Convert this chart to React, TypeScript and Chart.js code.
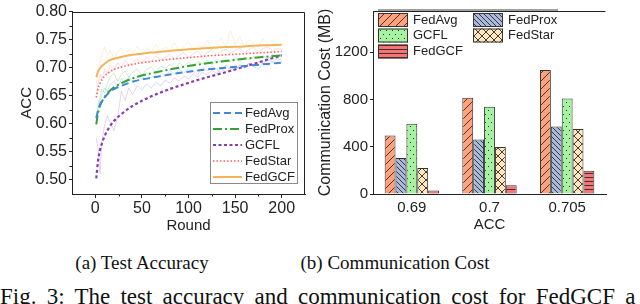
import React, { useEffect, useRef } from 'react';
import { Chart, registerables } from 'chart.js';
Chart.register(...registerables);

// ---------- Data: (a) Test Accuracy ----------
const fitRounds = [1, 3, 5, 10, 15, 20, 30, 40, 50, 60, 80, 100, 120, 140, 160, 180, 200];
const fitFedAvg = [0.610, 0.624, 0.634, 0.647, 0.656, 0.662, 0.669, 0.675, 0.679, 0.682, 0.688, 0.693, 0.697, 0.700, 0.703, 0.706, 0.709];
const fitFedProx = [0.599, 0.620, 0.632, 0.648, 0.658, 0.665, 0.674, 0.681, 0.686, 0.690, 0.697, 0.703, 0.708, 0.712, 0.716, 0.719, 0.722];
const fitGCFL = [0.503, 0.535, 0.553, 0.578, 0.594, 0.605, 0.620, 0.632, 0.641, 0.649, 0.662, 0.673, 0.683, 0.692, 0.702, 0.712, 0.722];
const fitFedStar = [0.647, 0.663, 0.672, 0.685, 0.692, 0.697, 0.702, 0.706, 0.709, 0.711, 0.715, 0.718, 0.721, 0.723, 0.725, 0.727, 0.729];
const fitFedGCF = [0.683, 0.693, 0.699, 0.707, 0.713, 0.716, 0.720, 0.723, 0.725, 0.727, 0.730, 0.733, 0.735, 0.737, 0.738, 0.740, 0.741];

const rawRounds = [1, 3, 5, 7, 10, 13, 16, 20, 24, 28, 32, 36, 40, 45, 50, 55, 60, 65, 70, 75, 80, 85, 90, 95, 100, 105, 110, 115, 120, 125, 130, 135, 140, 145, 150, 155, 160, 165, 170, 175, 180, 185, 190, 195, 200];
const rawFedAvg = [0.606, 0.628, 0.641, 0.652, 0.664, 0.658, 0.670, 0.676, 0.664, 0.681, 0.672, 0.684, 0.676, 0.686, 0.679, 0.690, 0.682, 0.688, 0.693, 0.684, 0.695, 0.688, 0.697, 0.690, 0.699, 0.693, 0.688, 0.701, 0.695, 0.703, 0.697, 0.692, 0.705, 0.698, 0.694, 0.706, 0.700, 0.708, 0.702, 0.697, 0.709, 0.703, 0.711, 0.706, 0.712];
const rawFedProx = [0.598, 0.635, 0.648, 0.662, 0.655, 0.672, 0.684, 0.690, 0.676, 0.688, 0.694, 0.683, 0.692, 0.698, 0.686, 0.697, 0.701, 0.692, 0.703, 0.699, 0.706, 0.697, 0.708, 0.703, 0.710, 0.701, 0.711, 0.707, 0.713, 0.705, 0.715, 0.709, 0.716, 0.711, 0.718, 0.710, 0.719, 0.714, 0.720, 0.716, 0.722, 0.715, 0.723, 0.719, 0.724];
const rawGCFL = [0.575, 0.556, 0.512, 0.568, 0.598, 0.614, 0.602, 0.588, 0.612, 0.658, 0.642, 0.664, 0.652, 0.668, 0.660, 0.671, 0.664, 0.674, 0.668, 0.678, 0.672, 0.682, 0.676, 0.685, 0.680, 0.689, 0.683, 0.692, 0.687, 0.695, 0.690, 0.698, 0.693, 0.701, 0.697, 0.704, 0.700, 0.708, 0.703, 0.711, 0.707, 0.714, 0.710, 0.717, 0.713];
const rawFedStar = [0.652, 0.672, 0.688, 0.680, 0.697, 0.690, 0.704, 0.696, 0.709, 0.701, 0.713, 0.704, 0.711, 0.716, 0.707, 0.719, 0.711, 0.721, 0.714, 0.718, 0.724, 0.715, 0.722, 0.727, 0.718, 0.725, 0.729, 0.720, 0.727, 0.731, 0.723, 0.729, 0.733, 0.725, 0.731, 0.735, 0.727, 0.733, 0.736, 0.728, 0.734, 0.737, 0.730, 0.735, 0.732];
const rawFedGCF = [0.668, 0.700, 0.712, 0.725, 0.737, 0.722, 0.731, 0.716, 0.728, 0.735, 0.721, 0.733, 0.726, 0.738, 0.724, 0.735, 0.729, 0.741, 0.727, 0.737, 0.732, 0.744, 0.730, 0.739, 0.746, 0.733, 0.741, 0.736, 0.749, 0.734, 0.744, 0.752, 0.737, 0.766, 0.742, 0.755, 0.738, 0.750, 0.743, 0.736, 0.752, 0.741, 0.748, 0.739, 0.744];

const accTicks = [0.5, 0.55, 0.6, 0.65, 0.7, 0.75, 0.8];
const accMinor = [0.525, 0.575, 0.625, 0.675, 0.725, 0.775];
const roundTicks = [0, 50, 100, 150, 200];
const roundMinor = [25, 75, 125, 175];

// ---------- Data: (b) Communication Cost ----------
const accCategories = ['0.69', '0.7', '0.705'];
const costFedAvg = [495, 815, 1050];
const costFedProx = [305, 462, 572];
const costGCFL = [595, 738, 808];
const costFedStar = [220, 398, 550];
const costFedGCF = [30, 74, 197];
const costTicks = [0, 400, 800, 1200];

const FONT = "'Liberation Sans', Arial, Helvetica, sans-serif";
const INK = '#222';

const lineSeries = [
  { name: 'FedAvg', fit: fitFedAvg, raw: rawFedAvg, color: '#3F88D6', rgb: '63,136,214', dash: [7, 4], width: 2 },
  { name: 'FedProx', fit: fitFedProx, raw: rawFedProx, color: '#33A433', rgb: '51,164,51', dash: [9, 3, 2, 3], width: 2 },
  { name: 'GCFL', fit: fitGCFL, raw: rawGCFL, color: '#8A3DB0', rgb: '138,61,176', dash: [3, 2.5], width: 2.2 },
  { name: 'FedStar', fit: fitFedStar, raw: rawFedStar, color: '#FF5E5E', rgb: '255,94,94', dash: [1.5, 2], width: 1.6 },
  { name: 'FedGCF', fit: fitFedGCF, raw: rawFedGCF, color: '#F3B458', rgb: '243,180,88', dash: [], width: 2 },
];

const frameBoxPlugin = {
  id: 'frameBox',
  afterDraw(chart: any, _a: any, opts: any) {
    const { ctx, chartArea: a } = chart;
    ctx.save();
    ctx.strokeStyle = INK;
    ctx.lineWidth = 1;
    ctx.beginPath();
    const t = Math.round(a.top) + 0.5;
    const r = Math.round(a.right) - 0.5;
    ctx.moveTo(a.left, t);
    ctx.lineTo(r, t);
    if (opts.right) ctx.lineTo(r, a.bottom);
    ctx.stroke();
    ctx.restore();
  },
};

const minorTicksPlugin = {
  id: 'minorTicks',
  afterDraw(chart: any, _a: any, opts: any) {
    const { ctx, chartArea: a, scales } = chart;
    ctx.save();
    ctx.strokeStyle = INK;
    ctx.lineWidth = 1;
    ctx.beginPath();
    (opts.x || []).forEach((v: number) => {
      const px = Math.round(scales.x.getPixelForValue(v)) + 0.5;
      ctx.moveTo(px, a.bottom);
      ctx.lineTo(px, a.bottom + 2.5);
    });
    (opts.y || []).forEach((v: number) => {
      const py = Math.round(scales.y.getPixelForValue(v)) + 0.5;
      ctx.moveTo(a.left, py);
      ctx.lineTo(a.left - 2.5, py);
    });
    ctx.stroke();
    ctx.restore();
  },
};

const lineLegendPlugin = {
  id: 'lineLegend',
  afterDraw(chart: any) {
    const { ctx } = chart;
    const x0 = 210, y0 = 102, w = 87, h = 81;
    ctx.save();
    ctx.fillStyle = '#fff';
    ctx.fillRect(x0, y0, w, h);
    ctx.strokeStyle = '#8a8a8a';
    ctx.lineWidth = 1;
    ctx.strokeRect(x0 + 0.5, y0 + 0.5, w, h);
    ctx.font = `13px ${FONT}`;
    ctx.textBaseline = 'middle';
    lineSeries.forEach((s, i) => {
      const y = y0 + 11 + i * 16;
      ctx.strokeStyle = s.color;
      ctx.lineWidth = s.width;
      ctx.setLineDash(s.dash);
      ctx.beginPath();
      ctx.moveTo(x0 + 3, y);
      ctx.lineTo(x0 + 32, y);
      ctx.stroke();
      ctx.setLineDash([]);
      ctx.fillStyle = INK;
      ctx.fillText(s.name, x0 + 35, y);
    });
    ctx.restore();
  },
};

function makePattern(ctx: CanvasRenderingContext2D, bg: string, w: number, h: number, draw: (g: CanvasRenderingContext2D) => void) {
  const c = document.createElement('canvas');
  c.width = w;
  c.height = h;
  const g = c.getContext('2d')!;
  g.fillStyle = bg;
  g.fillRect(0, 0, w, h);
  g.strokeStyle = '#2a2a2a';
  g.fillStyle = '#2a2a2a';
  g.lineWidth = 0.9;
  draw(g);
  return ctx.createPattern(c, 'repeat')!;
}

function buildPatterns(ctx: CanvasRenderingContext2D) {
  const fwd = (g: CanvasRenderingContext2D, s: number) => {
    g.beginPath();
    g.moveTo(0, s); g.lineTo(s, 0);
    g.moveTo(-1, 1); g.lineTo(1, -1);
    g.moveTo(s - 1, s + 1); g.lineTo(s + 1, s - 1);
    g.stroke();
  };
  const back = (g: CanvasRenderingContext2D, s: number) => {
    g.beginPath();
    g.moveTo(0, 0); g.lineTo(s, s);
    g.moveTo(s - 1, -1); g.lineTo(s + 1, 1);
    g.moveTo(-1, s - 1); g.lineTo(1, s + 1);
    g.stroke();
  };
  return {
    FedAvg: makePattern(ctx, '#FFA27C', 8, 8, (g) => fwd(g, 8)),
    FedProx: makePattern(ctx, '#A9B9DA', 5, 5, (g) => back(g, 5)),
    GCFL: makePattern(ctx, '#A5F2A0', 6, 8, (g) => { g.fillRect(1, 2, 1, 1); g.fillRect(4, 6, 1, 1); }),
    FedStar: makePattern(ctx, '#FFE6BC', 8, 8, (g) => { fwd(g, 8); back(g, 8); }),
    FedGCF: makePattern(ctx, '#F87474', 4, 4, (g) => { g.beginPath(); g.moveTo(0, 1.5); g.lineTo(4, 1.5); g.stroke(); }),
  } as Record<string, CanvasPattern>;
}

const barNames = ['FedAvg', 'FedProx', 'GCFL', 'FedStar', 'FedGCF'];
const barValues = [costFedAvg, costFedProx, costGCFL, costFedStar, costFedGCF];

function makeBarLegendPlugin(patterns: Record<string, CanvasPattern>) {
  return {
    id: 'barLegend',
    afterDraw(chart: any) {
      const { ctx } = chart;
      ctx.save();
      ctx.strokeStyle = '#a0a0a0';
      ctx.lineWidth = 2;
      ctx.beginPath();
      ctx.moveTo(68, 10);
      ctx.lineTo(248, 10);
      ctx.stroke();
      const slots = [
        { x: 68, y: 20 }, { x: 163, y: 20 },
        { x: 68, y: 35.5 }, { x: 163, y: 35.5 },
        { x: 68, y: 51.5 },
      ];
      const order = ['FedAvg', 'FedProx', 'GCFL', 'FedStar', 'FedGCF'];
      ctx.font = `13px ${FONT}`;
      ctx.textBaseline = 'middle';
      order.forEach((n, i) => {
        const s = slots[i];
        ctx.fillStyle = patterns[n];
        ctx.fillRect(s.x, s.y - 7, 30, 14);
        ctx.strokeStyle = '#333';
        ctx.lineWidth = 1;
        ctx.strokeRect(s.x + 0.5, s.y - 7 + 0.5, 29, 13);
        ctx.fillStyle = INK;
        ctx.fillText(n, s.x + 35, s.y);
      });
      ctx.restore();
    },
  };
}

function LineChart() {
  const ref = useRef<HTMLCanvasElement>(null);
  useEffect(() => {
    const datasets: any[] = [];
    lineSeries.forEach((s) => {
      datasets.push({
        label: s.name,
        data: fitRounds.map((r, i) => ({ x: r, y: s.fit[i] })),
        borderColor: s.color,
        borderDash: s.dash,
        borderWidth: s.width,
        pointRadius: 0,
        cubicInterpolationMode: 'monotone',
        fill: false,
        order: 1,
      });
    });
    lineSeries.forEach((s) => {
      datasets.push({
        label: s.name + ' raw',
        data: rawRounds.map((r, i) => ({ x: r, y: s.raw[i] })),
        borderColor: `rgba(${s.rgb},0.22)`,
        borderWidth: 1,
        pointRadius: 0,
        tension: 0,
        fill: false,
        order: 2,
      });
    });
    const chart = new Chart(ref.current!, {
      type: 'line',
      data: { datasets },
      options: {
        animation: false,
        responsive: false,
        layout: { padding: { top: 6, right: 5, left: 0, bottom: 0 } },
        plugins: {
          legend: { display: false },
          tooltip: { enabled: false },
          frameBox: { right: true },
          minorTicks: { x: roundMinor, y: accMinor },
        } as any,
        scales: {
          x: {
            type: 'linear',
            min: -25,
            max: 225,
            afterBuildTicks: (s: any) => { s.ticks = roundTicks.map((v) => ({ value: v })); },
            afterFit: (s: any) => { s.height = 46; },
            grid: { drawOnChartArea: false, tickLength: 4, tickColor: INK },
            border: { color: INK, width: 1 },
            ticks: { font: { size: 16, family: FONT }, color: INK, padding: 1, maxRotation: 0, autoSkip: false },
            title: { display: true, text: 'Round', font: { size: 15, family: FONT }, color: INK, padding: { top: 0, bottom: 5 } },
          },
          y: {
            min: 0.475,
            max: 0.8,
            afterBuildTicks: (s: any) => { s.ticks = accTicks.map((v) => ({ value: v })); },
            afterFit: (s: any) => { s.width = 72; },
            grid: { drawOnChartArea: false, tickLength: 3, tickColor: INK },
            border: { color: INK, width: 1 },
            ticks: { font: { size: 16, family: FONT }, color: INK, padding: 2, callback: (v: any) => Number(v).toFixed(2) },
            title: { display: true, text: 'ACC', font: { size: 15, family: FONT }, color: INK, padding: { top: 18, bottom: 0 } },
          },
        },
      },
      plugins: [frameBoxPlugin, minorTicksPlugin, lineLegendPlugin],
    });
    return () => chart.destroy();
  }, []);
  return <canvas ref={ref} width={310} height={240} style={{ position: 'absolute', left: 0, top: 0, width: 310, height: 240 }} />;
}

function BarChart() {
  const ref = useRef<HTMLCanvasElement>(null);
  useEffect(() => {
    const ctx = ref.current!.getContext('2d')!;
    const patterns = buildPatterns(ctx);
    const chart = new Chart(ref.current!, {
      type: 'bar',
      data: {
        labels: accCategories,
        datasets: barNames.map((n, i) => ({
          label: n,
          data: barValues[i],
          backgroundColor: patterns[n],
          borderColor: '#333',
          borderWidth: { top: 1, left: 1, right: 1, bottom: 0 },
          borderSkipped: 'bottom',
          categoryPercentage: 0.7,
          barPercentage: 1,
        })),
      },
      options: {
        animation: false,
        responsive: false,
        layout: { padding: { top: 6, right: 34, left: 0, bottom: 0 } },
        plugins: {
          legend: { display: false },
          tooltip: { enabled: false },
          frameBox: { right: false },
        } as any,
        scales: {
          x: {
            afterFit: (s: any) => { s.height = 46; },
            grid: { display: false, drawTicks: false },
            border: { color: INK, width: 1 },
            ticks: { font: { size: 15, family: FONT }, color: INK, padding: 5 },
            title: { display: true, text: 'ACC', font: { size: 15, family: FONT }, color: INK, padding: { top: 0, bottom: 6 } },
          },
          y: {
            min: 0,
            max: 1550,
            afterBuildTicks: (s: any) => { s.ticks = costTicks.map((v) => ({ value: v })); },
            afterFit: (s: any) => { s.width = 63; },
            grid: { drawOnChartArea: false, tickLength: 3, tickColor: INK },
            border: { color: INK, width: 1 },
            ticks: { font: { size: 15, family: FONT }, color: INK, padding: 2, callback: (v: any) => String(v) },
            title: { display: true, text: 'Communication Cost (MB)', font: { size: 16, family: FONT }, color: INK, padding: { top: 6, bottom: 0 } },
          },
        },
      },
      plugins: [frameBoxPlugin, makeBarLegendPlugin(patterns)],
    });
    return () => chart.destroy();
  }, []);
  return <canvas ref={ref} width={330} height={240} style={{ position: 'absolute', left: 310, top: 0, width: 330, height: 240 }} />;
}

export default function App() {
  const serif = "'Liberation Serif', 'Times New Roman', Times, serif";
  return (
    <div style={{ position: 'fixed', left: 0, top: 0, width: 640, height: 304, background: '#fff', overflow: 'hidden' }}>
      <LineChart />
      <BarChart />
      <div style={{ position: 'absolute', left: 42, top: 252, width: 200, textAlign: 'center', fontFamily: serif, fontSize: 19, lineHeight: '22px', color: '#111', whiteSpace: 'nowrap' }}>
        (a) Test Accuracy
      </div>
      <div style={{ position: 'absolute', left: 295, top: 252, width: 200, textAlign: 'center', fontFamily: serif, fontSize: 19, lineHeight: '22px', color: '#111', whiteSpace: 'nowrap' }}>
        (b) Communication Cost
      </div>
      <div style={{ position: 'absolute', left: 0, top: 284, fontFamily: serif, fontSize: 23, lineHeight: '26px', color: '#111', whiteSpace: 'nowrap', wordSpacing: 4.5 }}>
        Fig. 3: The test accuracy and communication cost for FedGCF a
      </div>
    </div>
  );
}
